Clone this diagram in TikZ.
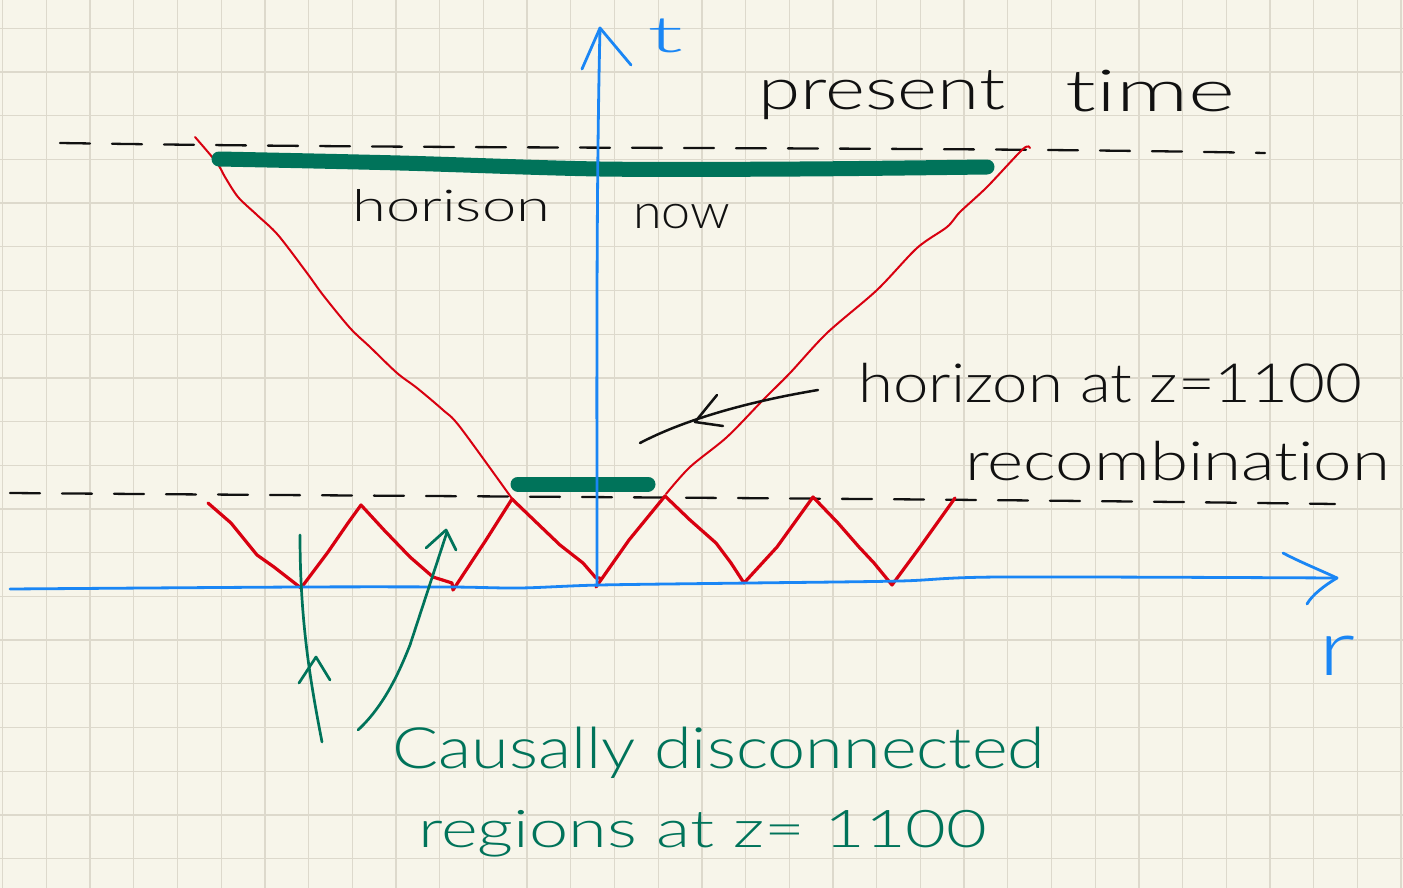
\documentclass[tikz,border=0pt]{standalone}
\usepackage{fontspec}
\IfFontExistsTF{Lato Light}{\setmainfont{Lato Light}[Ligatures={NoCommon,NoRare}]}{%
  \IfFontExistsTF{Poppins Light}{\setmainfont{Poppins Light}}{%
    \IfFontExistsTF{Open Sans Light}{\setmainfont{Open Sans Light}}{\setmainfont{Fira Sans}}}}
\usepackage{graphicx}
\definecolor{paper}{HTML}{F7F5EA}
\definecolor{gridc}{HTML}{DDD9CC}
\definecolor{axisblue}{HTML}{1A86F5}
\definecolor{conered}{HTML}{D80010}
\definecolor{ink}{HTML}{111111}
\definecolor{pen}{HTML}{00735A}
\newcommand\hw[3]{\resizebox{#1}{\height}{\fontsize{#2}{#2}\selectfont #3}}
\begin{document}
\begin{tikzpicture}[x=1pt,y=-1pt,
  lbl/.style={inner sep=0pt, anchor=base west},
  gridline/.style={gridc, line width=1.3pt},
  dashline/.style={ink, line width=2.3pt, dash pattern=on 30pt off 22pt, line cap=round},
  axis/.style={axisblue, line width=2.8pt, line cap=round, line join=round},
  cone/.style={conered, line width=2pt, line join=round, line cap=round},
  zig/.style={conered, line width=3.2pt, line join=round, line cap=round},
  bar/.style={pen, line width=15pt, line cap=round},
  greenarrow/.style={pen, line width=2.7pt, line cap=round, line join=round},
  blackarrow/.style={ink, line width=2.5pt, line cap=round, line join=round}]
\useasboundingbox (0,0) rectangle (1403,888);
\fill[paper] (0,0) rectangle (1403,888);
\foreach \k in {0,...,32} \draw[gridline] (2.7+43.7*\k,0) -- ++(0,888);
\foreach \k in {0,...,19} \draw[gridline] (0,28.3+43.7*\k) -- ++(1403,0);

% dashed reference lines
\draw[dashline] (60,143) .. controls (500,150) and (900,146) .. (1265,153);
\draw[dashline] (10,493) .. controls (500,497) and (900,498) .. (1335,504);

% light cone
\draw[cone] plot[smooth] coordinates {(195,137) (217,163) (225,177) (238,197) (257,215) (278,235) (307,273) (323,295) (350,328) (370,347) (397,373) (417,388) (443,410) (460,427) (513,500)};
\draw[cone] plot[smooth] coordinates {(666,494) (690,467) (727,437) (763,400) (790,373) (827,333) (877,290) (917,248) (947,227) (960,212) (987,187) (1023,149) (1030,148)};

% zigzag of causally disconnected regions
\draw[zig] (208,503) -- (231,523) -- (257,555) -- (274,567) -- (301,588) -- (328,552) -- (348,523) -- (361,505)
  -- (384,530) -- (410,557) -- (433,577) -- (452,583) -- (453,590) -- (486,540) -- (512,499)
  -- (537,523) -- (560,545) -- (583,563) -- (596,578) -- (600,578);
\draw[zig] (596,587) -- (629,540) -- (665,496)
  -- (690,520) -- (716,543) -- (731,563) -- (744,583) -- (777,547) -- (813,497)
  -- (838,523) -- (859,547) -- (874,563) -- (892,585) -- (920,547) -- (955,498);

% thick green bars
\draw[bar] plot[smooth] coordinates {(219,159) (400,163) (600,169) (800,169) (987,167)};
\draw[bar] (518,484) -- (648,484);

% axes
\coordinate (tbot) at (597,586);
\coordinate (ttop) at (600,28);
\draw[axis] (tbot) .. controls (597,400) and (596,200) .. (ttop);
\draw[axis] (582,69) -- (ttop) -- (631,65);
\coordinate (rleft) at (10,589);
\coordinate (rtip) at (1337,578);
\draw[axis] plot[smooth] coordinates {(rleft) (300,587) (450,587) (520,588) (600,585) (750,583) (900,581) (1000,577) (rtip)};
\draw[axis] (1283,553) .. controls (1300,562) and (1320,570) .. (rtip) .. controls (1325,585) and (1312,595) .. (1307,604);

% labels
\node[lbl, text=axisblue] (tlabel) at (647,53) {\hw{36pt}{50}{t}};
\node[lbl, text=axisblue] (rlabel) at (1318,675) {\hw{37pt}{78}{r}};
\node[lbl, text=ink] (present) at (758,110) {\hw{247pt}{58}{present}};
\node[lbl, text=ink] (time) at (1065,112) {\hw{170pt}{58}{time}};
\node[lbl, text=ink] (horison) at (352,222) {\hw{198pt}{44}{horison}};
\node[lbl, text=ink] (now) at (633,228) {\hw{97pt}{48}{now}};
\node[lbl, text=ink] (horizon) at (858,402) {\hw{504pt}{54}{horizon at z=1100}};
\node[lbl, text=ink] (recomb) at (965,480) {\hw{425pt}{54}{recombination}};
\node[lbl, text=pen] (causal) at (392,768) {\hw{653pt}{57}{Causally disconnected}};
\node[lbl, text=pen] (regions) at (418,847) {\hw{569pt}{52}{regions at z= 1100}};

% black arrow to the small horizon
\coordinate (hstart) at (818,390);
\coordinate (hend) at (640,443);
\draw[blackarrow] (hend) .. controls (680,422) and (740,403) .. (hstart);
\draw[blackarrow] (717,395) -- (695,422) -- (723,426);

% green arrows
\coordinate (g1a) at (322,742);
\coordinate (g1b) at (300,535);
\draw[greenarrow] (g1a) .. controls (310,680) and (300,620) .. (g1b);
\draw[greenarrow] (299,683) -- (316,657) -- (330,680);
\coordinate (g2a) at (358,730);
\coordinate (g2b) at (447,532);
\draw[greenarrow] (g2a) .. controls (385,705) and (400,670) .. (410,645) -- (g2b);
\draw[greenarrow] (426,548) -- (446,530) -- (456,550);
\end{tikzpicture}
\end{document}
